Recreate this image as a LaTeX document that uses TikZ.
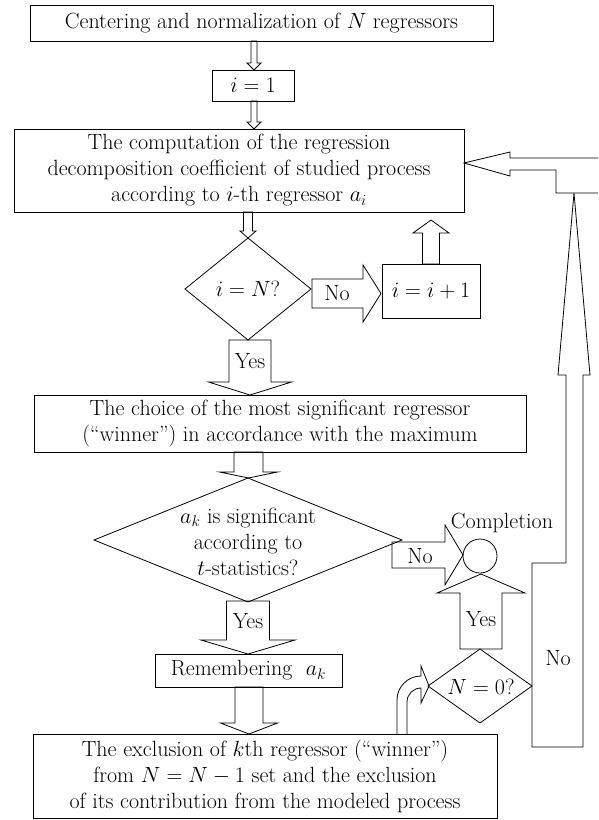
\RequirePackage{fix-cm}
\documentclass[tikz,border=0pt]{standalone}
\newcommand\DArr[6]{% x, y-top, y-tip, half shaft, half head, head length
  \draw[blk] ({#1-#4},#2) -- ({#1-#4},{#3-#6}) -- ({#1-#5},{#3-#6}) -- (#1,#3) -- ({#1+#5},{#3-#6}) -- ({#1+#4},{#3-#6}) -- ({#1+#4},#2) -- cycle;}
\newcommand\UArr[6]{% x, y-bottom, y-tip, half shaft, half head, head length
  \draw[blk] ({#1-#4},#2) -- ({#1-#4},{#3+#6}) -- ({#1-#5},{#3+#6}) -- (#1,#3) -- ({#1+#5},{#3+#6}) -- ({#1+#4},{#3+#6}) -- ({#1+#4},#2) -- cycle;}
\newcommand\RArr[6]{% y, x-left, x-tip, half shaft, half head, head length
  \draw[blk] (#2,{#1-#4}) -- ({#3-#6},{#1-#4}) -- ({#3-#6},{#1-#5}) -- (#3,#1) -- ({#3-#6},{#1+#5}) -- ({#3-#6},{#1+#4}) -- (#2,{#1+#4}) -- cycle;}
\begin{document}
\begin{tikzpicture}[x=1pt,y=-1pt, line width=0.8pt,
  txt/.style={font=\fontsize{22}{26}\selectfont, inner sep=0pt, align=center},
  box/.style={draw, txt, rectangle, inner sep=0pt},
  blk/.style={draw, line join=miter}]
\useasboundingbox (0,0) rectangle (598,820);

% boxes
\node[box, minimum width=463, minimum height=36] (b1) at (261.5,23) {Centering and normalization of $N$ regressors};
\node[box, minimum width=82, minimum height=31] (b2) at (253,85.5) {$i=1$};
\node[box, minimum width=450, minimum height=83] (b3) at (239,170.5) {The computation of the regression\\decomposition coefficient of studied process\\according to $i$-th regressor $a_i$};
\node[box, minimum width=98, minimum height=54] (b4) at (431,291) {$i=i+1$};
\node[box, minimum width=492, minimum height=57] (b5) at (280,423.5) {The choice of the most significant regressor\\(``winner'') in accordance with the maximum};
\node[box, minimum width=187, minimum height=33] (b6) at (248.5,670.5) {Remembering~ $a_k$};
\node[box, minimum width=464, minimum height=84] (b7) at (265,776) {The exclusion of $k$th regressor (``winner'')\\from $N=N-1$ set and the exclusion\\of its contribution from the modeled process};

% diamonds
\draw (248,238) -- (311,289) -- (248,340) -- (185,289) -- cycle;
\node[txt] (d1) at (248,289) {$i=N$?};
\draw (248,478) -- (402,540) -- (248,602) -- (94,540) -- cycle;
\node[txt] (d2) at (248,542) {$a_k$ is significant\\according to\\$t$-statistics?};
\draw (480,649) -- (532,686) -- (480,723) -- (428,686) -- cycle;
\node[txt] (d3) at (481,687) {$N=0$?};

% completion
\node[draw, circle, minimum size=34, inner sep=0pt] (c) at (480,556) {};
\node[txt] (ct) at (502,523) {Completion};

% block arrows
\DArr{254}{41}{70}{3}{7}{7}
\DArr{254}{101}{129}{3}{7}{7}
\DArr{248}{212}{238}{4.5}{8}{7}
\DArr{250}{340}{395}{21}{41.5}{13}
\DArr{248.5}{452}{478}{14.5}{29}{6}
\DArr{248}{601}{654}{21.5}{47}{14}
\DArr{249}{687}{734}{14}{28.5}{11}
\UArr{431}{264}{220}{8.5}{18}{13}
\UArr{481}{649}{574}{21}{44}{19}
\RArr{293.5}{312}{381}{14.5}{28.5}{18}
\RArr{555}{392}{463}{13}{30}{18}

% loop back (No of N=0?)
\draw[blk] (532,747) -- (532,563) -- (566,563) -- (566,375) -- (558,375) -- (574,193) -- (590,375) -- (583,375) -- (583,747) -- cycle;
\draw[blk] (598,158) -- (510,158) -- (510,152) -- (464,163) -- (510,176) -- (510,170) -- (556,170) -- (556,193) -- (598,193);

% curved arrow
\draw[blk] (397,734) -- (397,700) arc[start angle=180, end angle=270, radius=24] -- (421,666) -- (429,686) -- (421,703) -- (421,688) arc[start angle=270, end angle=180, radius=14] -- (407,734);

% labels
\node[txt] (l1) at (337,293.5) {No};
\node[txt] (l2) at (250,361) {Yes};
\node[txt] (l3) at (248,621) {Yes};
\node[txt] (l4) at (420,556) {No};
\node[txt] (l5) at (481,619) {Yes};
\node[txt] (l6) at (558,658) {No};
\end{tikzpicture}
\end{document}
